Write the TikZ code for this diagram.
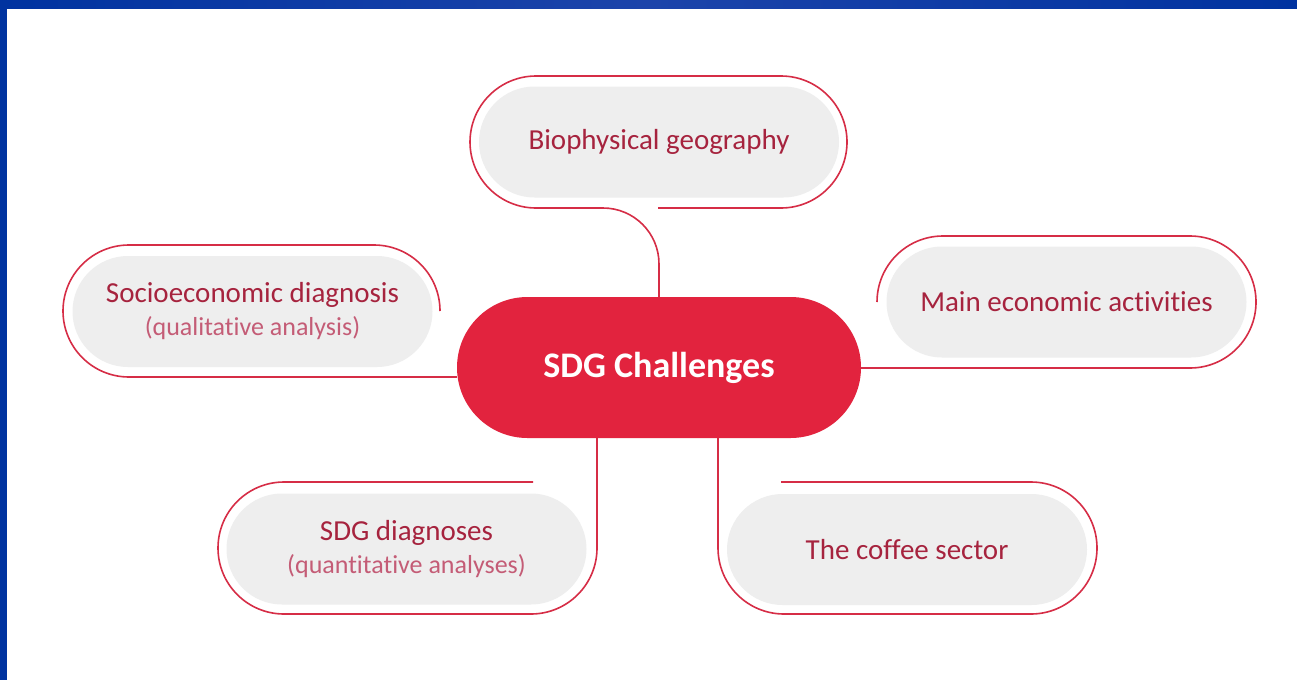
\documentclass[tikz,border=0pt]{standalone}
\usepackage{fontspec}
\setmainfont[Ligatures=NoCommon]{Carlito}
\usepackage{xcolor}
\usepackage{tikz}
\usetikzlibrary{shapes.misc}
\definecolor{hubred}{RGB}{226,35,62}
\definecolor{ringred}{RGB}{214,45,70}
\definecolor{textred}{RGB}{166,35,62}
\definecolor{subred}{RGB}{196,92,118}
\definecolor{pillgrey}{RGB}{238,238,238}
\definecolor{bardark}{RGB}{0,51,160}
\definecolor{barlight}{RGB}{28,68,170}
\newcommand{\subline}[1]{{\fontsize{26}{30}\selectfont\color{subred}#1}}
\tikzset{
    treenode/.style = {align=center, inner sep=0pt, text centered},
    grey_node/.style = {treenode, rounded rectangle, fill=pillgrey, text=textred, minimum width=360pt, minimum height=111pt, font=\fontsize{29}{33}\selectfont},
    hub_node/.style = {treenode, rounded rectangle, fill=hubred, text=white, minimum width=404pt, minimum height=141pt, font=\fontsize{36}{40}\selectfont\bfseries},
    ring/.style = {draw=ringred, line width=1.6pt}
}
\begin{document}
\begin{tikzpicture}[x=1pt, y=-1pt]
    \useasboundingbox (0,0) rectangle (1297,680);
    \fill[white] (0,0) rectangle (1297,680);
    \fill[bardark] (0,0) rectangle (7,680);
    \shade[left color=bardark, right color=bardark, middle color=barlight] (0,0) rectangle (1297,8);

    \node [hub_node] (hub) at (659,367.5) {SDG Challenges};
    \node [grey_node] (bio) at (659,142) {Biophysical geography};
    \node [grey_node] (socio) at (252.5,311.5) {Socioeconomic diagnosis\\\subline{(qualitative analysis)}};
    \node [grey_node] (econ) at (1066.5,302) {Main economic activities};
    \node [grey_node] (sdgd) at (406.5,549) {SDG diagnoses\\\subline{(quantitative analyses)}};
    \node [grey_node] (coffee) at (907,549.5) {The coffee sector};

    \coordinate (socbot) at (129,377);
    \coordinate (ecobot) at (1190,368);
    \coordinate (sdgside) at (597,548);
    \coordinate (cofside) at (718,548);

    \draw[ring] (658,208) -- (781,208) arc[start angle=90, end angle=-90, radius=66]
        -- (536,76) arc[start angle=-90, end angle=-270, radius=66]
        [rounded corners=56pt] -- (659,208) -- (hub.north);
    \draw[ring] (440,311) arc[start angle=0, end angle=-90, radius=66]
        -- (129,245) arc[start angle=-90, end angle=-270, radius=66]
        -- (socbot -| hub.west);
    \draw[ring] (877,302) arc[start angle=180, end angle=270, radius=66]
        -- (1190,236) arc[start angle=270, end angle=450, radius=66]
        -- (ecobot -| hub.east);
    \draw[ring] (533,482) -- (284,482) arc[start angle=270, end angle=90, radius=66]
        -- (531,614) arc[start angle=90, end angle=0, radius=66]
        -- (sdgside |- hub.south);
    \draw[ring] (781,482) -- (1031,482) arc[start angle=270, end angle=450, radius=66]
        -- (784,614) arc[start angle=90, end angle=180, radius=66]
        -- (cofside |- hub.south);
\end{tikzpicture}
\end{document}
